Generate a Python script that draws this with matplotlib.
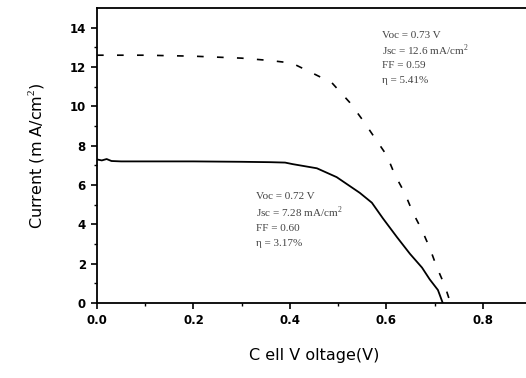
import numpy as np
import matplotlib.pyplot as plt

# J-V data
v_solid = [0.0, 0.01, 0.02, 0.03, 0.05, 0.1, 0.2, 0.3, 0.36, 0.39, 0.406, 0.456, 0.497,
           0.545, 0.570, 0.593, 0.622, 0.649, 0.674, 0.690, 0.707, 0.717]
j_solid = [7.30, 7.25, 7.32, 7.22, 7.20, 7.20, 7.20, 7.18, 7.16, 7.14, 7.06, 6.85, 6.40,
           5.60, 5.10, 4.30, 3.35, 2.50, 1.80, 1.20, 0.66, 0.0]

v_dash = [0.0, 0.1, 0.2, 0.3, 0.359, 0.404, 0.446, 0.487, 0.524, 0.551, 0.576, 0.601,
          0.618, 0.638, 0.655, 0.674, 0.690, 0.705, 0.721, 0.733]
j_dash = [12.6, 12.6, 12.55, 12.45, 12.33, 12.2, 11.7, 11.2, 10.2, 9.3, 8.4, 7.5,
          6.5, 5.6, 4.6, 3.7, 2.8, 1.8, 0.9, 0.0]

x_ticks = [0.0, 0.2, 0.4, 0.6, 0.8]
x_ticklabels = ['0.0', '0.2', '0.4', '0.6', '0.8']
y_ticks = [0, 2, 4, 6, 8, 10, 12, 14]
y_ticklabels = ['0', '2', '4', '6', '8', '10', '12', '14']

lines_top = ["Voc = 0.73 V", "Jsc = 12.6 mA/cm$^2$", "FF = 0.59", "\u03b7 = 5.41%"]
lines_bot = ["Voc = 0.72 V", "Jsc = 7.28 mA/cm$^2$", "FF = 0.60", "\u03b7 = 3.17%"]

plt.rcParams['font.family'] = ['DejaVu Sans']
plt.rcParams['mathtext.fontset'] = 'custom'
plt.rcParams['mathtext.rm'] = 'Liberation Serif'

fig = plt.figure(figsize=(5.26, 3.78), dpi=100)
ax = fig.add_axes([97/526, 75/378, 434/526, 295/378])

ax.plot(v_solid, j_solid, color='black', lw=1.3)
ax.plot(v_dash, j_dash, color='black', lw=1.2, dashes=(4, 8))

ax.set_xlim(0, 0.9)
ax.set_ylim(0, 15)
ax.set_xticks(x_ticks, x_ticklabels, fontweight='bold')
ax.set_yticks(y_ticks, y_ticklabels, fontweight='bold')
ax.set_xticks(np.arange(0.1, 0.9, 0.2), minor=True)
ax.set_yticks(np.arange(1, 15, 2), minor=True)
ax.tick_params(which='major', direction='out', length=4, width=1.2, labelsize=8.5, pad=4)
ax.tick_params(which='minor', direction='out', length=2, width=1.0)
for s in ax.spines.values():
    s.set_linewidth(1.3)

ax.set_xlabel('C ell V oltage(V)', fontsize=11.5, labelpad=15)
ax.set_ylabel('Current (m A/cm$^2$)', fontsize=11.5, labelpad=17)

# one text per line so the spacing stays even
for i, s in enumerate(lines_top):
    ax.text(0.59, 13.6 - 0.76 * i, s, fontsize=8, family='Liberation Serif',
            color='#444444', va='center')
for i, s in enumerate(lines_bot):
    ax.text(0.33, 5.43 - 0.81 * i, s, fontsize=8, family='Liberation Serif',
            color='#444444', va='center')

fig.savefig('out.png', dpi=100)
